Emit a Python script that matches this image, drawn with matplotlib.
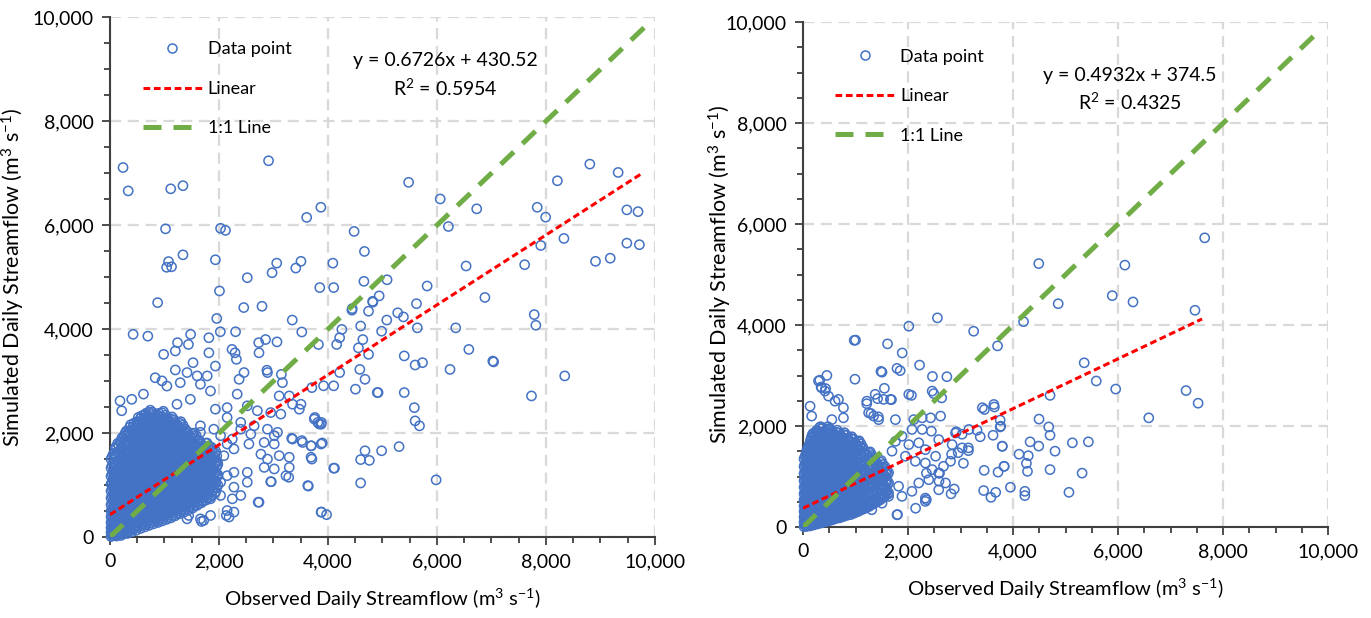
import matplotlib
matplotlib.use('Agg')
import matplotlib.pyplot as plt
from matplotlib.lines import Line2D
from matplotlib.ticker import FuncFormatter, MultipleLocator
import numpy as np

plt.rcParams['font.family'] = ['Lato', 'DejaVu Sans']
plt.rcParams['mathtext.fontset'] = 'custom'
plt.rcParams['mathtext.rm'] = 'Lato'
plt.rcParams['mathtext.it'] = 'Lato:italic'

# ---- left panel: scattered points (observed, simulated) ----
left_outliers = [
    (240, 7110), (335, 6660), (1115, 6700), (1340, 6760), (2910, 7240), (1020, 5930),
    (2030, 5940), (2120, 5900), (3610, 6150), (3870, 6345), (4480, 5880), (4670, 5495),
    (5480, 6825), (6060, 6505), (6210, 5975), (6730, 6315), (6535, 5215), (6880, 4610),
    (7610, 5240), (7840, 6345), (7995, 6155), (7905, 5610), (8210, 6855), (8330, 5745),
    (8805, 7175), (8910, 5305), (9180, 5365), (9325, 7015), (9485, 6295), (9690, 6260),
    (9485, 5655), (9715, 5625), (1075, 5300), (1040, 5190), (1130, 5200), (1340, 5430),
    (1935, 5335), (2010, 4735), (2520, 4990), (2975, 5085), (3060, 5270), (3410, 5175),
    (3505, 5305), (3850, 4800), (4105, 4800), (4090, 5270), (4660, 4920), (5085, 4950),
    (4940, 4640), (4820, 4535), (5820, 4830), (5625, 4490), (875, 4510), (2455, 4415),
    (2790, 4440), (4445, 4395), (425, 3900), (695, 3865), (1960, 4205), (2025, 3950),
    (2305, 3950), (3345, 4175), (3520, 3945), (985, 3515), (1200, 3580), (1240, 3740),
    (1480, 3900), (1440, 3705), (1815, 3835), (1815, 3545), (2240, 3610), (2295, 3545),
    (2320, 3420), (2730, 3740), (2855, 3800), (3065, 3755), (2735, 3545), (2880, 3210),
    (3145, 3130), (4440, 4365), (4745, 4345), (4825, 4520), (4600, 4060), (4255, 3995),
    (4215, 3835), (4160, 3705), (3825, 3705), (4640, 3800), (4560, 3640), (4745, 3515),
    (4985, 3960), (5080, 4175), (5280, 4315), (5385, 4235), (5640, 4025), (6345, 4025),
    (7785, 4280), (7815, 4075), (5400, 3485), (5600, 3310), (5735, 3355), (6585, 3610),
    (7025, 3385), (7040, 3370), (6240, 3225), (8345, 3100), (7735, 2715), (4215, 3165),
    (4585, 3225), (4680, 3035), (4505, 2845), (4905, 2780), (4920, 2780), (5400, 2780),
    (4105, 2910), (3920, 2910), (3705, 2875), (5585, 2490), (5600, 2235), (5680, 2140),
    (3760, 2300), (3840, 2175), (3880, 2205), (3895, 1810), (3695, 1755), (3520, 1855),
    (3335, 1900), (3705, 1500), (4105, 1325), (3640, 980), (3880, 480), (3975, 430),
    (4680, 1660), (4600, 1490), (4760, 1475), (4985, 1660), (5305, 1740), (4600, 1040),
    (5985, 1100), (2720, 670), (3280, 1150), (2960, 1065), (2135, 415), (1680, 300),
    (1525, 3355), (1935, 3290), (1200, 3215), (1415, 3165), (830, 3065), (955, 3005),
    (1045, 2905), (1290, 2970), (1600, 3100), (1785, 3100), (1845, 2810), (1660, 2940),
    (185, 2620), (215, 2430), (400, 2650), (615, 2750), (1935, 2460), (1475, 2650),
    (1230, 2555), (2150, 2490), (2335, 2750), (2460, 3165), (2370, 3035), (2890, 3165),
    (3165, 2970), (3105, 2715), (3290, 2715), (2520, 2525), (2705, 2430), (2950, 2395),
    (3135, 2365), (3350, 2555), (3475, 2460), (3505, 2555), (3750, 2270), (3875, 2170),
    (3815, 2205), (2150, 2300), (2400, 2205), (2645, 2140), (2890, 2075), (3015, 1950),
    (3075, 2015), (2550, 1790), (2830, 1820), (3015, 1790), (3350, 1885), (3535, 1820),
    (3690, 1755), (3875, 1790), (2770, 1595), (2890, 1500), (3105, 1565), (3290, 1535),
    (2830, 1340), (3015, 1310), (3230, 1180), (3290, 1340), (3690, 1535), (4120, 1325),
    (3630, 990), (2950, 1065), (2520, 1245), (2520, 1055), (2275, 960), (2150, 1180),
    (2030, 1055), (2400, 800), (2245, 735), (2030, 800), (1845, 735), (2150, 510),
    (2275, 480), (2185, 385), (2735, 670), (1845, 415), (1660, 350), (1445, 415),
    (1415, 350), (1720, 320), (3875, 480), (2275, 1245), (1970, 1180), (1845, 1055),
    (1970, 1440), (1845, 1500), (2090, 1565), (2150, 1790), (2275, 1695), (2400, 2075),
    (2585, 1980), (2245, 1885), (2030, 1950), (1905, 2075), (1660, 2140), (1660, 2015),
]

# dense cloud near the origin: observed value of a column, simulated values in it
left_core = [
    (20, [10, 90, 180, 280, 390, 500, 620, 750, 880, 1020, 1170, 1330, 1500]),
    (40, [30, 115, 205, 305, 415, 530, 650, 780, 915, 1060, 1210, 1370, 1545]),
    (60, [50, 135, 230, 335, 445, 560, 685, 815, 950, 1095, 1250, 1415, 1590]),
    (80, [70, 160, 260, 370, 485, 605, 730, 860, 995, 1135, 1280, 1440, 1610]),
    (100, [40, 140, 240, 350, 460, 580, 700, 830, 960, 1100, 1240, 1390, 1550, 1720]),
    (120, [20, 110, 210, 320, 435, 555, 680, 810, 945, 1085, 1230, 1385, 1550, 1720]),
    (140, [90, 190, 295, 405, 520, 640, 765, 895, 1030, 1170, 1315, 1470, 1635, 1800]),
    (160, [120, 225, 340, 460, 585, 715, 845, 985, 1125, 1275, 1430, 1590, 1760]),
    (180, [60, 170, 290, 410, 530, 660, 790, 920, 1060, 1200, 1350, 1500, 1660, 1830]),
    (200, [30, 145, 260, 380, 505, 635, 765, 900, 1040, 1185, 1335, 1490, 1655, 1830]),
    (220, [115, 230, 350, 470, 595, 725, 855, 990, 1130, 1275, 1425, 1580, 1745, 1910]),
    (240, [55, 170, 295, 420, 550, 680, 815, 955, 1095, 1240, 1395, 1555, 1725, 1895]),
    (260, [90, 210, 340, 470, 600, 730, 870, 1010, 1150, 1300, 1450, 1610, 1780, 1950]),
    (280, [120, 245, 375, 505, 635, 770, 910, 1050, 1195, 1345, 1500, 1665, 1835, 2000]),
    (300, [150, 275, 405, 535, 665, 800, 940, 1080, 1225, 1375, 1530, 1695, 1865, 2040]),
    (320, [70, 190, 320, 455, 590, 730, 870, 1010, 1155, 1305, 1460, 1620, 1790, 1960]),
    (340, [110, 240, 380, 520, 660, 800, 940, 1080, 1230, 1380, 1530, 1690, 1860, 2030]),
    (360, [145, 275, 415, 555, 700, 845, 990, 1135, 1285, 1440, 1600, 1765, 1940, 2110]),
    (380, [180, 310, 450, 595, 740, 885, 1030, 1180, 1330, 1485, 1645, 1810, 1985, 2160]),
    (400, [100, 230, 370, 510, 650, 795, 945, 1095, 1245, 1395, 1550, 1710, 1880, 2060]),
    (420, [150, 290, 430, 570, 720, 870, 1020, 1170, 1320, 1470, 1630, 1790, 1960, 2120]),
    (440, [180, 325, 470, 615, 765, 915, 1065, 1215, 1365, 1520, 1680, 1850, 2025, 2190]),
    (460, [215, 360, 505, 655, 805, 955, 1105, 1255, 1410, 1570, 1735, 1905, 2080]),
    (480, [130, 275, 425, 575, 725, 875, 1025, 1175, 1330, 1490, 1655, 1825, 1995, 2165]),
    (500, [180, 330, 480, 630, 780, 930, 1080, 1230, 1390, 1550, 1710, 1880, 2050, 2220]),
    (520, [215, 370, 525, 680, 835, 990, 1145, 1305, 1465, 1630, 1800, 1975, 2150, 2300]),
    (540, [260, 410, 560, 715, 875, 1035, 1195, 1355, 1515, 1680, 1850, 2025, 2200]),
    (560, [165, 320, 475, 635, 795, 955, 1115, 1275, 1435, 1600, 1770, 1945, 2120, 2280]),
    (580, [220, 370, 520, 680, 840, 1000, 1160, 1320, 1480, 1640, 1810, 1980, 2160, 2330]),
    (600, [255, 415, 575, 735, 895, 1055, 1220, 1385, 1550, 1720, 1895, 2070, 2245]),
    (620, [300, 455, 615, 775, 935, 1095, 1255, 1420, 1590, 1765, 1940, 2120, 2290]),
    (640, [195, 355, 520, 680, 840, 1000, 1160, 1325, 1490, 1660, 1830, 2005, 2180, 2350]),
    (660, [240, 400, 560, 720, 880, 1040, 1200, 1360, 1520, 1690, 1860, 2030, 2200, 2380]),
    (680, [280, 440, 600, 760, 925, 1090, 1255, 1425, 1595, 1765, 1940, 2115, 2290]),
    (700, [320, 480, 640, 800, 965, 1130, 1295, 1465, 1635, 1805, 1975, 2150, 2330]),
    (720, [225, 385, 545, 705, 865, 1030, 1195, 1360, 1530, 1700, 1870, 2045, 2220, 2400]),
    (740, [270, 430, 590, 750, 910, 1070, 1240, 1410, 1580, 1750, 1920, 2090, 2270, 2440]),
    (760, [310, 470, 635, 800, 965, 1135, 1305, 1475, 1645, 1820, 1995, 2175, 2355]),
    (780, [350, 515, 680, 845, 1010, 1180, 1350, 1520, 1690, 1865, 2040, 2220, 2400]),
    (800, [255, 420, 585, 750, 915, 1080, 1250, 1420, 1590, 1765, 1940, 2115, 2290]),
    (820, [300, 460, 620, 790, 960, 1130, 1300, 1470, 1640, 1810, 1980, 2150, 2330]),
    (840, [340, 505, 670, 840, 1010, 1180, 1350, 1520, 1695, 1870, 2045, 2225]),
    (860, [380, 545, 715, 885, 1055, 1225, 1395, 1565, 1735, 1910, 2085, 2265]),
    (880, [280, 445, 615, 785, 955, 1125, 1295, 1465, 1635, 1810, 1985, 2165, 2345]),
    (900, [320, 490, 660, 830, 1000, 1170, 1340, 1510, 1680, 1850, 2020, 2200, 2380]),
    (920, [360, 530, 700, 870, 1040, 1210, 1380, 1555, 1730, 1905, 2085, 2265]),
    (940, [400, 575, 745, 915, 1085, 1255, 1425, 1595, 1770, 1945, 2125, 2305]),
    (960, [310, 480, 650, 820, 990, 1160, 1330, 1500, 1670, 1845, 2025, 2205, 2390]),
    (980, [350, 520, 690, 860, 1030, 1200, 1370, 1540, 1710, 1880, 2060, 2240, 2420]),
    (1000, [395, 565, 735, 905, 1075, 1245, 1415, 1590, 1765, 1940, 2120, 2300]),
    (1020, [440, 610, 780, 950, 1120, 1290, 1460, 1630, 1805, 1985, 2165, 2345]),
    (1040, [340, 510, 680, 850, 1020, 1190, 1360, 1530, 1705, 1880, 2060, 2240]),
    (1060, [380, 550, 720, 890, 1060, 1230, 1400, 1570, 1740, 1910, 2090, 2270]),
    (1080, [425, 595, 765, 935, 1105, 1275, 1450, 1625, 1800, 1980, 2160]),
    (1100, [470, 640, 810, 980, 1150, 1320, 1490, 1665, 1845, 2025, 2205]),
    (1120, [370, 540, 710, 880, 1050, 1220, 1390, 1560, 1735, 1915, 2095, 2275]),
    (1140, [410, 580, 750, 920, 1090, 1260, 1430, 1600, 1770, 1950, 2130, 2310]),
    (1160, [460, 630, 800, 970, 1140, 1315, 1490, 1665, 1845, 2025, 2205]),
    (1180, [510, 680, 850, 1020, 1190, 1360, 1535, 1710, 1890, 2070, 2250]),
    (1200, [410, 580, 750, 920, 1090, 1260, 1430, 1605, 1780, 1960, 2140]),
    (1220, [450, 620, 790, 960, 1130, 1300, 1470, 1640, 1810, 1990, 2170]),
    (1240, [500, 670, 840, 1010, 1180, 1355, 1530, 1710, 1890, 2070]),
    (1260, [550, 720, 890, 1060, 1230, 1400, 1575, 1755, 1935, 2115]),
    (1280, [450, 620, 790, 960, 1130, 1300, 1475, 1650, 1830, 2010, 2190]),
    (1300, [490, 660, 830, 1000, 1170, 1340, 1510, 1680, 1860, 2040, 2220]),
    (1320, [535, 705, 875, 1045, 1220, 1395, 1570, 1750, 1930, 2110]),
    (1340, [585, 755, 925, 1095, 1265, 1440, 1615, 1795, 1975, 2155]),
    (1360, [480, 650, 820, 990, 1160, 1330, 1505, 1680, 1860, 2040]),
    (1380, [520, 690, 860, 1030, 1200, 1370, 1540, 1720, 1900, 2080]),
    (1400, [575, 745, 915, 1090, 1265, 1440, 1620, 1800, 1980]),
    (1420, [625, 795, 965, 1140, 1315, 1490, 1670, 1850, 2030]),
    (1440, [520, 690, 860, 1030, 1200, 1375, 1550, 1730, 1910]),
    (1460, [560, 730, 900, 1070, 1240, 1410, 1590, 1770, 1950]),
    (1480, [615, 790, 965, 1140, 1315, 1495, 1675, 1855]),
    (1500, [665, 835, 1010, 1185, 1360, 1540, 1720, 1900]),
    (1520, [560, 735, 910, 1085, 1260, 1440, 1620, 1800, 1980]),
    (1540, [600, 770, 940, 1110, 1280, 1460, 1640, 1820, 2000]),
    (1560, [660, 835, 1010, 1190, 1370, 1550, 1730, 1910]),
    (1580, [710, 885, 1060, 1235, 1415, 1595, 1775, 1955]),
    (1600, [610, 785, 960, 1135, 1315, 1495, 1675, 1855]),
    (1620, [640, 810, 980, 1150, 1330, 1510, 1690, 1870]),
    (1640, [705, 885, 1065, 1245, 1425, 1605, 1785]),
    (1660, [760, 935, 1115, 1295, 1475, 1655, 1835]),
    (1680, [660, 835, 1010, 1190, 1370, 1550, 1730]),
    (1700, [690, 860, 1030, 1210, 1390, 1570, 1750]),
    (1720, [755, 935, 1115, 1300, 1485, 1670]),
    (1740, [810, 990, 1170, 1350, 1530, 1710]),
    (1760, [710, 890, 1070, 1255, 1440, 1625, 1805]),
    (1780, [740, 910, 1090, 1270, 1450, 1630, 1810]),
    (1800, [810, 995, 1180, 1365, 1555, 1745]),
    (1820, [880, 1065, 1250, 1435, 1625]),
    (1840, [770, 955, 1140, 1330, 1520, 1710]),
    (1860, [800, 980, 1160, 1350, 1540, 1730]),
    (1880, [880, 1070, 1265, 1460, 1655]),
    (1900, [960, 1150, 1345, 1545]),
    (1920, [835, 1025, 1220, 1420, 1620]),
    (1940, [870, 1060, 1250, 1450, 1650]),
    (1960, [950, 1150, 1355, 1560]),
    (1980, [1000, 1200, 1400]),
]

# ---- right panel ----
right_outliers = [
    (4490, 5220), (6130, 5190), (7650, 5730), (5890, 4585), (4860, 4425), (6285, 4460),
    (7465, 4295), (2560, 4145), (2015, 3980), (3250, 3880), (4200, 4070), (975, 3700),
    (1000, 3705), (1610, 3630), (1890, 3450), (3705, 3590), (5355, 3255), (2220, 3210),
    (1485, 3085), (1790, 3145), (1850, 3100), (2465, 2985), (2740, 2980), (990, 2930),
    (455, 3005), (320, 2910), (345, 2775), (430, 2745), (5585, 2895), (5955, 2735),
    (7295, 2705), (7525, 2455), (6585, 2165), (4705, 2610), (2065, 2610), (2490, 2645),
    (2640, 2560), (1550, 2750), (1420, 2545), (1685, 2525), (1215, 2445), (1295, 2250),
    (1435, 2185), (3455, 2330), (3645, 2380), (3755, 2120), (3755, 1985), (4495, 2140),
    (4680, 1985), (4705, 1820), (2920, 1890), (3030, 1840), (3315, 1920), (3375, 1790),
    (3620, 1820), (3795, 1605), (4325, 1690), (4490, 1605), (4800, 1505), (5130, 1670),
    (5435, 1690), (4115, 1445), (4290, 1415), (4255, 1265), (4275, 1105), (3830, 1205),
    (3715, 1090), (3450, 1125), (4705, 1140), (5315, 1070), (2955, 1475), (3150, 1515),
    (3055, 1265), (2830, 1445), (3150, 1570), (3440, 725), (3670, 690), (3580, 590),
    (3950, 790), (4225, 710), (4225, 625), (5065, 690), (2820, 660), (2880, 755),
    (2675, 1205), (2590, 910), (2350, 545), (2145, 375), (1800, 250), (2600, 1070),
    (2350, 1070), (1505, 3070), (295, 2895), (135, 2395), (165, 2200), (355, 2760),
    (420, 2695), (485, 2595), (610, 2495), (770, 2365), (675, 2530), (770, 2165),
    (550, 2130), (1215, 2495), (1375, 2630), (1535, 2530), (1665, 2530), (1250, 2265),
    (1345, 2200), (1440, 2130), (1760, 2130), (2015, 2630), (2110, 2130), (2270, 2165),
    (2430, 2165), (2620, 2200), (2460, 2695), (2445, 1900), (2585, 1735), (2270, 1935),
    (2075, 1935), (1885, 1800), (2015, 1635), (2205, 1670), (2330, 1535), (2525, 1405),
    (1760, 1700), (1695, 1505), (1950, 1405), (2140, 1305), (2330, 1270), (2460, 1140),
    (2585, 1070), (2395, 940), (2205, 875), (2075, 710), (1885, 610), (2330, 575),
    (2330, 510), (1790, 245), (1505, 475), (1310, 345), (1630, 610), (1820, 810),
    (1565, 1005), (1440, 875), (2810, 1305), (2715, 875), (2585, 740), (2905, 1865),
    (3160, 1935), (3415, 2365), (3635, 2430), (3765, 2000), (3795, 1600), (3030, 1570),
    (2840, 1635), (3830, 1205),
]

right_core = [
    (20, [10, 100, 200, 310, 420, 540, 660, 790, 920, 1060, 1200, 1350]),
    (37, [40, 130, 225, 330, 445, 565, 690, 820, 955, 1095, 1240, 1395]),
    (55, [50, 150, 250, 360, 480, 600, 720, 850, 990, 1130, 1280, 1440]),
    (72, [15, 110, 210, 315, 425, 545, 665, 795, 930, 1070, 1215, 1370, 1520]),
    (90, [30, 130, 240, 350, 470, 590, 710, 840, 970, 1110, 1250, 1400, 1560]),
    (107, [60, 165, 275, 385, 500, 620, 745, 875, 1005, 1145, 1290, 1440, 1600]),
    (125, [80, 190, 300, 410, 530, 650, 780, 910, 1040, 1180, 1330, 1480, 1650]),
    (142, [25, 130, 240, 355, 470, 590, 715, 845, 975, 1110, 1250, 1400, 1555, 1720]),
    (160, [50, 160, 270, 390, 510, 630, 760, 890, 1020, 1160, 1300, 1450, 1610, 1780]),
    (177, [80, 190, 305, 425, 545, 670, 800, 930, 1065, 1205, 1350, 1505, 1665, 1830]),
    (195, [100, 215, 335, 455, 575, 700, 830, 960, 1095, 1235, 1380, 1530, 1695, 1860]),
    (212, [45, 155, 270, 390, 510, 635, 765, 895, 1030, 1170, 1315, 1465, 1625, 1790]),
    (230, [70, 180, 300, 420, 540, 670, 800, 930, 1070, 1210, 1360, 1510, 1670, 1840]),
    (247, [100, 215, 335, 460, 580, 710, 840, 975, 1115, 1255, 1405, 1560, 1720, 1885]),
    (265, [120, 240, 360, 490, 610, 740, 870, 1010, 1150, 1290, 1440, 1600, 1760, 1920]),
    (282, [65, 185, 305, 430, 555, 685, 815, 950, 1090, 1230, 1380, 1535, 1695, 1860]),
    (300, [90, 210, 330, 450, 580, 710, 840, 980, 1120, 1260, 1410, 1560, 1720, 1890]),
    (317, [125, 245, 370, 495, 625, 760, 895, 1035, 1175, 1325, 1480, 1640, 1805, 1975]),
    (335, [140, 270, 395, 520, 650, 780, 920, 1060, 1200, 1345, 1495, 1655, 1825, 1990]),
    (352, [85, 210, 340, 470, 600, 730, 870, 1010, 1150, 1300, 1455, 1615, 1780, 1950]),
    (370, [110, 230, 360, 490, 620, 750, 890, 1030, 1170, 1320, 1470, 1630, 1800, 1970]),
    (387, [145, 270, 400, 530, 665, 805, 945, 1085, 1235, 1385, 1540, 1700, 1870]),
    (405, [170, 295, 425, 555, 690, 830, 970, 1110, 1260, 1410, 1560, 1720, 1890]),
    (422, [105, 235, 365, 500, 635, 775, 915, 1060, 1205, 1355, 1510, 1670, 1840]),
    (440, [130, 260, 390, 520, 660, 800, 940, 1080, 1230, 1380, 1540, 1700, 1870]),
    (457, [165, 300, 435, 570, 710, 850, 995, 1140, 1290, 1445, 1605, 1775, 1945]),
    (475, [190, 325, 460, 600, 740, 880, 1030, 1180, 1330, 1490, 1650, 1820, 1990]),
    (492, [125, 260, 395, 535, 675, 815, 960, 1110, 1260, 1415, 1575, 1745, 1915]),
    (510, [150, 280, 420, 560, 700, 840, 990, 1140, 1290, 1450, 1610, 1780, 1950]),
    (527, [190, 330, 470, 610, 755, 905, 1055, 1205, 1360, 1520, 1690, 1860]),
    (545, [220, 360, 500, 640, 785, 935, 1085, 1235, 1395, 1560, 1730, 1900]),
    (562, [145, 285, 425, 570, 715, 860, 1010, 1160, 1315, 1475, 1645, 1815]),
    (580, [170, 310, 450, 590, 740, 890, 1040, 1190, 1350, 1510, 1680, 1850]),
    (597, [210, 355, 500, 650, 800, 955, 1110, 1265, 1425, 1595, 1765]),
    (615, [240, 385, 530, 680, 830, 985, 1140, 1300, 1465, 1635, 1805]),
    (632, [170, 310, 455, 605, 755, 905, 1060, 1215, 1375, 1540, 1710, 1880]),
    (650, [190, 330, 480, 630, 780, 930, 1090, 1250, 1410, 1580, 1750, 1920]),
    (667, [230, 380, 530, 680, 835, 990, 1150, 1310, 1475, 1645, 1815]),
    (685, [265, 415, 565, 715, 875, 1035, 1195, 1355, 1525, 1695, 1865]),
    (702, [185, 335, 485, 635, 790, 945, 1105, 1265, 1430, 1600, 1770]),
    (720, [210, 360, 510, 660, 820, 980, 1140, 1300, 1470, 1640, 1810]),
    (737, [255, 405, 560, 715, 870, 1030, 1195, 1360, 1530, 1705]),
    (755, [290, 440, 600, 755, 915, 1075, 1240, 1410, 1580, 1760]),
    (772, [210, 365, 515, 670, 825, 985, 1150, 1315, 1485, 1660, 1835]),
    (790, [240, 390, 540, 700, 860, 1020, 1180, 1350, 1520, 1690, 1870]),
    (807, [275, 430, 590, 745, 905, 1070, 1235, 1405, 1580, 1760]),
    (825, [315, 475, 635, 795, 955, 1120, 1290, 1460, 1640, 1820]),
    (842, [235, 390, 550, 710, 870, 1030, 1195, 1365, 1535, 1710]),
    (860, [260, 420, 580, 740, 900, 1060, 1230, 1400, 1570, 1750]),
    (877, [300, 460, 620, 780, 945, 1110, 1280, 1450, 1625]),
    (895, [340, 500, 665, 825, 990, 1160, 1330, 1500, 1680]),
    (912, [250, 410, 575, 735, 900, 1065, 1235, 1405, 1580, 1760]),
    (930, [290, 450, 610, 770, 930, 1100, 1270, 1440, 1610, 1790]),
    (947, [325, 490, 655, 820, 985, 1155, 1325, 1500, 1680]),
    (965, [365, 530, 700, 870, 1040, 1210, 1380, 1560, 1740]),
    (982, [280, 445, 610, 775, 945, 1115, 1285, 1460, 1640]),
    (1000, [310, 470, 640, 810, 980, 1150, 1320, 1490, 1670]),
    (1017, [355, 520, 690, 860, 1030, 1200, 1375, 1555]),
    (1035, [390, 560, 730, 900, 1070, 1240, 1420, 1600]),
    (1052, [310, 480, 650, 820, 990, 1160, 1335, 1510, 1690]),
    (1070, [340, 500, 670, 840, 1010, 1180, 1350, 1530, 1710]),
    (1087, [385, 555, 725, 895, 1065, 1240, 1420, 1600]),
    (1105, [420, 590, 760, 935, 1110, 1290, 1470, 1650]),
    (1122, [345, 515, 685, 855, 1025, 1200, 1375, 1555]),
    (1140, [370, 540, 710, 880, 1050, 1220, 1400, 1580]),
    (1157, [415, 590, 760, 935, 1110, 1290, 1470]),
    (1175, [455, 625, 795, 970, 1150, 1330, 1510]),
    (1192, [375, 545, 720, 895, 1070, 1245, 1425]),
    (1210, [400, 570, 740, 910, 1080, 1260, 1440]),
    (1227, [450, 625, 800, 975, 1155, 1335]),
    (1245, [490, 660, 835, 1010, 1190, 1370]),
    (1262, [410, 585, 760, 935, 1115, 1295, 1470]),
    (1280, [440, 610, 780, 950, 1130, 1310, 1490]),
    (1297, [490, 665, 840, 1020, 1200, 1385]),
    (1315, [525, 700, 880, 1060, 1240, 1420]),
    (1332, [455, 630, 805, 985, 1165, 1345]),
    (1350, [480, 650, 820, 1000, 1180, 1360]),
    (1367, [530, 710, 890, 1075, 1265]),
    (1385, [565, 745, 925, 1110, 1300]),
    (1402, [495, 675, 855, 1040, 1225]),
    (1420, [520, 700, 880, 1060, 1250]),
    (1437, [570, 755, 940, 1130]),
    (1455, [610, 795, 980, 1170]),
    (1472, [540, 725, 910, 1100, 1290]),
    (1490, [570, 750, 940, 1130, 1320]),
    (1507, [615, 800, 990, 1185]),
    (1525, [655, 845, 1040, 1240]),
    (1542, [590, 780, 975, 1170]),
    (1560, [620, 810, 1000, 1200]),
    (1577, [670, 865, 1065]),
    (1595, [720, 920, 1120]),
    (1612, [650, 845, 1045]),
    (1630, [680, 880, 1080]),
]

# trend lines as printed on the chart: slope, intercept, last observed value
left_fit = (0.6726, 430.52, 9760)
right_fit = (0.4932, 374.5, 7600)
left_eq = ['y = 0.6726x + 430.52', 'R$^2$ = 0.5954']
right_eq = ['y = 0.4932x + 374.5', 'R$^2$ = 0.4325']

blue = '#4472C4'
red = '#FF0000'
green = '#70AD47'
axis_col = '#404040'


def gather(outliers, core):
    xs = [p[0] for p in outliers]
    ys = [p[1] for p in outliers]
    for cx, col in core:
        for cy in col:
            xs.append(cx)
            ys.append(cy)
    return np.array(xs), np.array(ys)


def draw(ax, outliers, core, fit, eq, eq_pos, ylabpad, leg_anchor):
    x, y = gather(outliers, core)
    ax.scatter(x, y, s=44, facecolors='none', edgecolors=blue, linewidths=1.1,
               clip_on=False, zorder=3)
    slope, icpt, xmax = fit
    xl = np.array([0, xmax])
    ax.plot(xl, slope * xl + icpt, color=red, lw=2.2, dashes=(2.2, 1.2), zorder=4)
    xo = np.array([0, 9880])
    ax.plot(xo, xo, color=green, lw=3.6, dashes=(3.6, 2.4), zorder=4)

    ax.set_xlim(0, 10000)
    ax.set_ylim(0, 10000)
    ax.xaxis.set_major_locator(MultipleLocator(2000))
    ax.yaxis.set_major_locator(MultipleLocator(2000))
    ax.xaxis.set_minor_locator(MultipleLocator(500))
    ax.yaxis.set_minor_locator(MultipleLocator(500))
    fmt = FuncFormatter(lambda v, p: f'{int(v):,}')
    ax.xaxis.set_major_formatter(fmt)
    ax.yaxis.set_major_formatter(fmt)
    ax.grid(True, which='major', color='#D9D9D9', lw=1.6, ls=(0, (5, 3)))
    ax.set_axisbelow(True)
    for s in ['top', 'right']:
        ax.spines[s].set_visible(False)
    for s in ['left', 'bottom']:
        ax.spines[s].set_color(axis_col)
        ax.spines[s].set_linewidth(1.5)
    ax.tick_params(which='major', direction='out', length=5.5, width=1.3,
                   color=axis_col, labelsize=14, pad=6)
    ax.tick_params(which='minor', direction='out', length=4.5, width=1.3, color=axis_col)

    ax.set_xlabel('Observed Daily Streamflow (m$^3$ s$^{-1}$)', fontsize=14.5, labelpad=12)
    ax.set_ylabel('Simulated Daily Streamflow (m$^3$ s$^{-1}$)', fontsize=15.5,
                  labelpad=ylabpad)

    ax.text(eq_pos[0], eq_pos[1], eq[0], ha='center', va='center', fontsize=14)
    ax.text(eq_pos[0], eq_pos[1] - 530, eq[1], ha='center', va='center', fontsize=14)

    handles = [
        Line2D([], [], ls='none', marker='o', mfc='none', mec=blue, ms=6.5, mew=1.1),
        Line2D([], [], color=red, lw=2.2, dashes=(2.2, 1.2)),
        Line2D([], [], color=green, lw=3.6, dashes=(3.6, 2.4)),
    ]
    ax.legend(handles, ['Data point', 'Linear', '1:1 Line'], loc='upper left',
              bbox_to_anchor=leg_anchor, frameon=False, fontsize=13,
              handlelength=3.3, handletextpad=0.3, labelspacing=1.3)


fig = plt.figure(figsize=(13.71, 6.18), dpi=100)
ax1 = fig.add_axes([0.0802, 0.131, 0.3975, 0.841])
ax2 = fig.add_axes([0.5857, 0.147, 0.383, 0.817])

draw(ax1, left_outliers, left_core, left_fit, left_eq, (6150, 9170), 4, (0.03, 0.985))
draw(ax2, right_outliers, right_core, right_fit, right_eq, (6230, 8950), -6, (0.03, 0.98))

fig.savefig('out.png', dpi=100)
